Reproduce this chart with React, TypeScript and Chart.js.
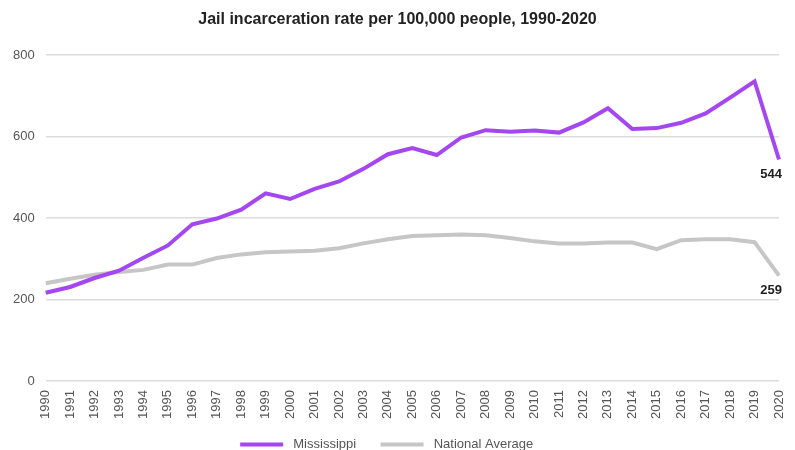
import React, { useEffect, useRef } from "react";
import { Chart, registerables } from "chart.js";

Chart.register(...registerables);

const years: string[] = [
  "1990","1991","1992","1993","1994","1995","1996","1997","1998","1999",
  "2000","2001","2002","2003","2004","2005","2006","2007","2008","2009",
  "2010","2011","2012","2013","2014","2015","2016","2017","2018","2019","2020",
];

const mississippi: number[] = [
  217, 231, 253, 271, 303, 333, 385, 399, 421, 461,
  447, 472, 490, 521, 557, 572, 555, 598, 616, 612,
  615, 610, 635, 670, 619, 621, 634, 657, 696, 736, 544,
];

const nationalAverage: number[] = [
  240, 251, 261, 268, 273, 286, 286, 302, 311, 316,
  318, 320, 326, 338, 348, 356, 358, 360, 358, 351,
  343, 338, 338, 340, 340, 324, 346, 348, 348, 341, 259,
];

const seriesNames: string[] = ["Mississippi", "National Average"];
const yTicks: number[] = [0, 200, 400, 600, 800];
const title = "Jail incarceration rate per 100,000 people, 1990-2020";

const PURPLE = "#a446f2";
const GRAY = "#c6c6c6";
const SANS = "'Liberation Sans', Arial, sans-serif";

const endLabels = {
  id: "endLabels",
  afterDatasetsDraw(chart: any) {
    const ctx = chart.ctx;
    ctx.save();
    ctx.font = `bold 13px ${SANS}`;
    ctx.fillStyle = "#222";
    ctx.textAlign = "right";
    ctx.textBaseline = "top";
    chart.data.datasets.forEach((ds: any, i: number) => {
      const meta = chart.getDatasetMeta(i);
      const last = meta.data[meta.data.length - 1];
      const v = ds.data[ds.data.length - 1];
      ctx.fillText(String(v), last.x + 3, last.y + 8);
    });
    ctx.restore();
  },
};

export default function App() {
  const ref = useRef<HTMLCanvasElement | null>(null);
  useEffect(() => {
    if (!ref.current) return;
    const chart = new Chart(ref.current, {
      type: "line",
      data: {
        labels: years,
        datasets: [
          {
            label: seriesNames[0],
            data: mississippi,
            borderColor: PURPLE,
            backgroundColor: PURPLE,
            borderWidth: 4,
            pointRadius: 0,
            tension: 0,
          },
          {
            label: seriesNames[1],
            data: nationalAverage,
            borderColor: GRAY,
            backgroundColor: GRAY,
            borderWidth: 4,
            pointRadius: 0,
            tension: 0,
          },
        ],
      },
      options: {
        animation: false,
        responsive: false,
        maintainAspectRatio: false,
        layout: { padding: { left: 16, right: 16, top: 0, bottom: 0 } },
        plugins: {
          title: {
            display: true,
            text: title,
            color: "#222",
            font: { family: SANS, size: 16, weight: "bold" },
            padding: { top: 10, bottom: 26 },
          },
          legend: {
            position: "bottom",
            labels: {
              boxWidth: 43,
              boxHeight: 4,
              padding: 10,
              color: "#555",
              font: { family: SANS, size: 13 },
              generateLabels: (chart: any) =>
                chart.data.datasets.map((ds: any, i: number) => ({
                  text: i === 0 ? " " + ds.label + "    " : " " + ds.label + "      ",
                  fillStyle: ds.borderColor,
                  strokeStyle: ds.borderColor,
                  lineWidth: 0,
                  fontColor: "#555",
                  hidden: false,
                  datasetIndex: i,
                })),
            },
          },
          tooltip: { enabled: false },
        },
        scales: {
          x: {
            grid: { display: false, drawTicks: false },
            border: { display: false },
            afterFit: (scale: any) => {
              scale.paddingRight = 0;
            },
            ticks: {
              color: "#555",
              minRotation: 90,
              maxRotation: 90,
              autoSkip: false,
              padding: 9,
              font: { family: SANS, size: 13 },
            },
          },
          y: {
            min: 0,
            max: 800,
            afterBuildTicks: (axis: any) => {
              axis.ticks = yTicks.map((v) => ({ value: v }));
            },
            afterFit: (scale: any) => {
              scale.width = scale.width - 14;
              scale._computeLabelArea = () => undefined;
            },
            grid: { color: "#dcdcdc", lineWidth: 1.5, drawTicks: false },
            border: { display: false },
            ticks: {
              color: "#555",
              padding: 11,
              font: { family: SANS, size: 13 },
            },
          },
        },
      },
      plugins: [endLabels],
    });
    return () => chart.destroy();
  }, []);
  return (
    <div style={{ position: "fixed", left: 0, top: 0, width: 795, height: 461, background: "#fff" }}>
      <canvas ref={ref} width={795} height={461} style={{ width: 795, height: 461 }} />
    </div>
  );
}
